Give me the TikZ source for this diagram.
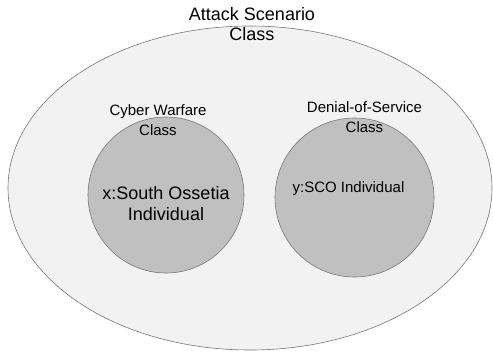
\documentclass[tikz,border=0pt]{standalone}
\usepackage{fontspec}
\setmainfont{Liberation Sans}
\definecolor{outerfill}{HTML}{F2F2F2}
\definecolor{innerfill}{HTML}{C0C0C0}
\definecolor{edgegray}{HTML}{777777}
\tikzset{
  outerset/.style={draw=edgegray, line width=0.6pt, fill=outerfill, ellipse, minimum width=484pt, minimum height=324pt, inner sep=0pt},
  innerset/.style={draw=edgegray, line width=0.6pt, fill=innerfill, circle, inner sep=0pt},
  biglabel/.style={align=center, font=\fontsize{18}{20.5}\selectfont, inner sep=0pt},
  smalllabel/.style={align=center, font=\fontsize{15}{20}\selectfont, inner sep=0pt}
}
\usetikzlibrary{shapes.geometric}
\begin{document}
\begin{tikzpicture}[x=1pt,y=-1pt]
\useasboundingbox (0,0) rectangle (493,353);
\node[outerset] (scenario) at (250,188) {};
\node[innerset, minimum size=156pt] (cyber) at (166,195) {};
\node[innerset, minimum size=159pt] (dos) at (354.5,197.5) {};
\node[biglabel] (scenariolbl) at (252,24) {Attack Scenario\\Class};
\node[smalllabel] (cyberlbl) at (158,120) {Cyber Warfare\\Class};
\node[smalllabel] (doslbl) at (364.5,117) {Denial-of-Service\\Class};
\node[biglabel] (xind) at (166,203.5) {x:South Ossetia\\Individual};
\node[smalllabel] (yind) at (348.5,189) {y:SCO Individual};
\end{tikzpicture}
\end{document}
